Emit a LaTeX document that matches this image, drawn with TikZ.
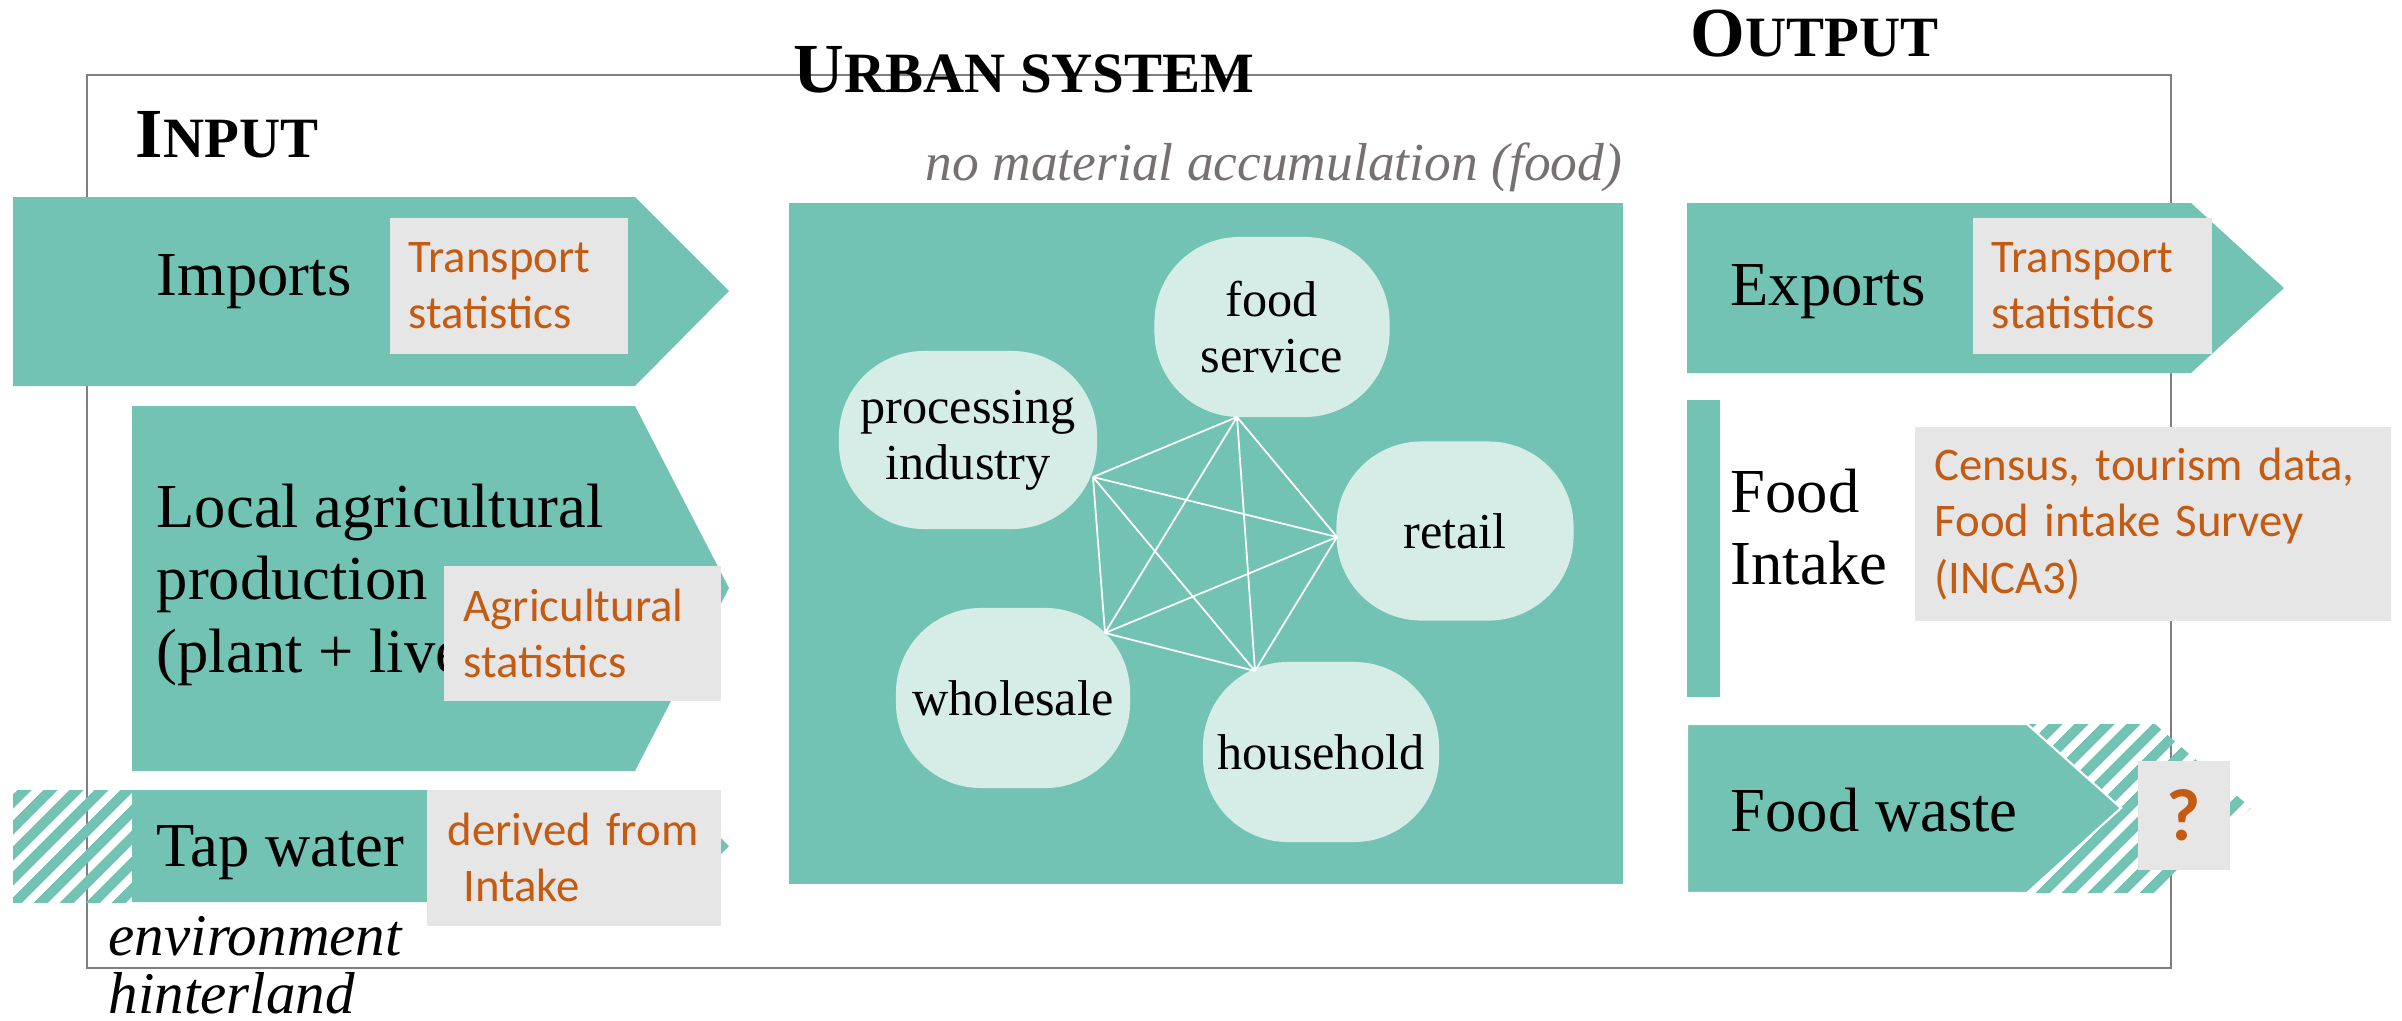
\documentclass[tikz,border=0pt]{standalone}
\usepackage{fontspec}
\setmainfont{Liberation Serif}
\newfontfamily\srcfont{Carlito}
\usetikzlibrary{patterns.meta}

\definecolor{flow}{HTML}{72C3B4}
\definecolor{bubble}{HTML}{D5ECE7}
\definecolor{srcbg}{HTML}{E7E6E6}
\definecolor{srcfg}{HTML}{C55A11}
\definecolor{framec}{HTML}{7F7F7F}
\definecolor{notec}{HTML}{767171}

\newcommand{\scaps}[2]{{\bfseries\fontsize{20}{24}\selectfont #1\fontsize{16.2}{20}\selectfont #2}}

\begin{document}
\begin{tikzpicture}[x=0.01cm,y=-0.01cm,
  hatch/.style={pattern={Lines[angle=45,distance=5.4pt,line width=3pt]},pattern color=flow},
  lbl/.style={inner sep=0pt,font=\fontsize{17.8}{20.6}\selectfont},
  title/.style={inner sep=0pt,anchor=base west},
  src/.style={fill=srcbg,anchor=north west,align=left,inner ysep=0pt,text=srcfg,
    font=\srcfont\fontsize{13.3}{16}\selectfont},
  bub/.style={fill=bubble,rounded corners=0.85cm,align=center,inner sep=0pt,
    font=\fontsize{14.3}{15.8}\selectfont},
  link/.style={white,line width=0.5pt}]

\useasboundingbox (0,0) rectangle (2402,1021);

\draw[framec,line width=0.6pt] (87,75) rectangle (2171,968);

\node[title] (tin)  at (135,157) {\scaps{I}{NPUT}};
\node[title] (tur)  at (793,93)  {\scaps{U}{RBAN SYSTEM}};
\node[title] (tout) at (1690,57) {\scaps{O}{UTPUT}};

\node[inner sep=0pt,anchor=base west,text=notec,font=\itshape\fontsize{15.2}{18}\selectfont]
  (note) at (925,180) {no material accumulation (food)};

% input side
\path[fill=flow]%
(13,197)--(635,197)--(729,291)--(635,386)--(13,386)--cycle;
\path[fill=flow]%
(132,406)--(635,406)--(729,588)--(635,771)--(132,771)--cycle;
\path[hatch]%
(13,790) rectangle (132,902);
\path[fill=flow]%
(132,790)--(673,790)--(729,846)--(673,902)--(132,902)--cycle;

% urban system
\path[fill=flow]%
(789,203) rectangle (1623,884);

% output side
\path[fill=flow]%
(1687,203)--(2191,203)--(2284,288)--(2191,373)--(1687,373)--cycle;
\path[fill=flow]%
(1687,400) rectangle (1720,697);
\path[hatch]%
(1687,724)--(2155,724)--(2251,808)--(2155,893)--(1687,893)--cycle;
\path[fill=flow,draw=white,line width=0.6pt]%
(1687,724)--(2027,724)--(2121,808)--(2027,893)--(1687,893)--cycle;

\node[bub,minimum width=2.35cm,minimum height=1.80cm] (fs) at (1272,327) {food\\service};
\node[bub,minimum width=2.58cm,minimum height=1.78cm] (pi) at (968,440)  {processing\\industry};
\node[bub,minimum width=2.37cm,minimum height=1.79cm] (rt) at (1455,531) {retail};
\node[bub,minimum width=2.34cm,minimum height=1.80cm] (ws) at (1013,698) {wholesale};
\node[bub,minimum width=2.36cm,minimum height=1.80cm] (hh) at (1321,752) {household};

\coordinate (fsP) at ([shift={(-35,90)}]fs.center);
\coordinate (piP) at ([shift={(125,37)}]pi.center);
\coordinate (rtP) at ([shift={(-118,6)}]rt.center);
\coordinate (wsP) at ([shift={(92,-65)}]ws.center);
\coordinate (hhP) at ([shift={(-66,-81)}]hh.center);

\draw[link] (fsP)--(piP) (fsP)--(rtP) (fsP)--(wsP) (fsP)--(hhP)
  (piP)--(rtP) (piP)--(wsP) (piP)--(hhP)
  (rtP)--(wsP) (rtP)--(hhP) (wsP)--(hhP);

\node[lbl,anchor=base west] (imp) at (156,295) {Imports};
\node[lbl,anchor=north west,align=left] (agr) at (156,483)
  {Local agricultural\\production\\(plant + livestock)};
\node[lbl,anchor=base west] (tap) at (156,866) {Tap water};
\node[lbl,anchor=base west] (exp) at (1730,305) {Exports};
\node[lbl,anchor=north west,align=left] (int) at (1730,468) {Food\\Intake};
\node[lbl,anchor=base west] (wst) at (1730,831) {Food waste};

\node[src,text width=2.00cm,inner xsep=0.19cm,minimum height=1.36cm] (impsrc) at (389,217)
  {Transport\\statistics};
\node[src,text width=2.37cm,inner xsep=0.20cm,minimum height=1.35cm] (agrsrc) at (443,565)
  {Agricultural\\statistics};
\node[src,text width=2.52cm,inner xsep=0.21cm,minimum height=1.36cm] (tapsrc) at (426,789)
  {derived from\\~Intake};
\node[src,text width=2.01cm,inner xsep=0.19cm,minimum height=1.36cm] (expsrc) at (1972,217)
  {Transport\\statistics};
\node[src,text width=4.36cm,inner xsep=0.20cm,minimum height=1.94cm] (intsrc) at (1914,426)
  {Census, tourism data,\\Food intake Survey\\(INCA3)};
\node[src,align=center,inner xsep=0pt,minimum width=0.92cm,minimum height=1.09cm,
  font=\srcfont\bfseries\fontsize{21}{24}\selectfont] (wstsrc) at (2137,760) {?};

\node[inner sep=0pt,anchor=base west,font=\itshape\fontsize{16.8}{20}\selectfont]
  (env) at (108,955) {environment};
\node[inner sep=0pt,anchor=base west,font=\itshape\fontsize{16.8}{20}\selectfont]
  (hin) at (108,1013) {hinterland};

\end{tikzpicture}
\end{document}
